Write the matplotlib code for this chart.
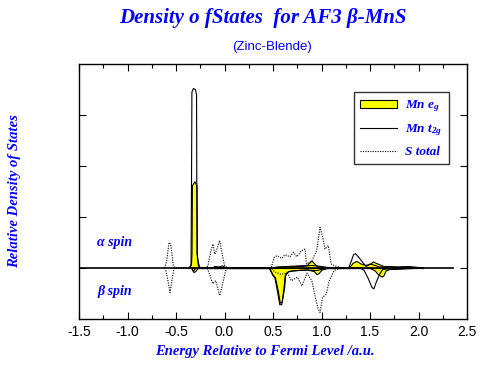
import matplotlib
matplotlib.use("Agg")
import matplotlib.pyplot as plt
from matplotlib.patches import Patch
from matplotlib.lines import Line2D

# Mn e_g, alpha spin (up) and beta spin (down)
eg_up_e = [-0.36, -0.345, -0.34, -0.336, -0.31, -0.288, -0.284, -0.275, -0.26, -0.24,
           0.45, 0.50, 0.55, 0.65, 0.75, 0.85, 0.88, 0.90, 0.93, 0.96, 1.02, 1.08,
           1.28, 1.32, 1.36, 1.40, 1.45, 1.50, 1.53, 1.56, 1.60, 1.65, 1.75, 1.85, 1.95, 2.05]
eg_up_v = [0, 0.1, 0.3, 1.62, 1.7, 1.62, 0.25, 0.12, 0.02, 0,
           0, 0.02, 0.03, 0.04, 0.05, 0.06, 0.12, 0.14, 0.08, 0.03, 0.02, 0,
           0, 0.1, 0.14, 0.09, 0.06, 0.08, 0.13, 0.1, 0.07, 0.03, 0.02, 0.03, 0.01, 0]
eg_dn_e = [-0.34, -0.32, -0.30, -0.28, 0.46, 0.50, 0.52, 0.55, 0.57, 0.59, 0.61, 0.62,
           0.64, 0.68, 0.75, 0.85, 0.92, 0.95, 0.97, 1.0, 1.05, 1.5, 1.55, 1.58, 1.62,
           1.64, 1.66, 1.70, 1.8]
eg_dn_v = [0, -0.08, -0.06, 0, 0, -0.14, -0.18, -0.45, -0.68, -0.66, -0.35, -0.15,
           -0.08, -0.05, -0.04, -0.03, -0.06, -0.12, -0.1, -0.03, 0, 0, -0.05, -0.12, -0.17,
           -0.14, -0.05, -0.02, 0]

# Mn t_2g
t2g_up_e = [-0.37, -0.345, -0.34, -0.336, -0.32, -0.30, -0.288, -0.284, -0.27, -0.25,
            -0.12, -0.10, -0.06, -0.02, 0.0, 0.02, 0.45, 0.6, 0.8, 0.9, 1.0, 1.1,
            1.28, 1.31, 1.33, 1.35, 1.38, 1.42, 1.46, 1.5, 1.55, 1.6, 1.7, 1.8, 1.9, 2.0, 2.05]
t2g_up_v = [0, 0.05, 1.7, 3.45, 3.52, 3.5, 3.4, 0.3, 0.05, 0,
            0, 0.03, 0.02, 0.04, 0.02, 0, 0, 0.02, 0.03, 0.05, 0.03, 0,
            0, 0.15, 0.26, 0.28, 0.22, 0.12, 0.03, 0.08, 0.05, 0.02, 0.03, 0.02, 0.03, 0.01, 0]
t2g_dn_e = [-0.34, -0.32, -0.30, 0.46, 0.50, 0.52, 0.55, 0.57, 0.59, 0.62, 0.63, 0.66,
            0.75, 0.85, 0.95, 1.0, 1.1, 1.4, 1.44, 1.48, 1.52, 1.54, 1.56, 1.6, 1.63,
            1.68, 1.75, 1.85, 1.95, 2.05]
t2g_dn_v = [0, -0.07, 0, 0, -0.15, -0.2, -0.5, -0.72, -0.72, -0.4, -0.15, -0.07,
            -0.05, -0.04, -0.05, -0.03, 0, 0, -0.05, -0.2, -0.38, -0.41, -0.3, -0.12, -0.03,
            -0.02, -0.03, -0.02, -0.01, 0]

# S total
s_up_e = [-0.62, -0.597, -0.572, -0.555, -0.528, -0.51,
          -0.19, -0.17, -0.14, -0.12, -0.10, -0.07, -0.05, -0.02, 0.0, 0.03,
          0.48, 0.514, 0.538, 0.59, 0.624, 0.676, 0.71, 0.744, 0.795, 0.83, 0.845, 0.9,
          0.95, 0.985, 1.02, 1.035, 1.07, 1.10, 1.14, 1.22]
s_up_v = [0, 0.12, 0.50, 0.47, 0.05, 0,
          0, 0.05, 0.34, 0.47, 0.27, 0.41, 0.54, 0.24, 0.05, 0,
          0, 0.21, 0.24, 0.19, 0.26, 0.22, 0.31, 0.22, 0.34, 0.37, 0.08, 0.14,
          0.34, 0.80, 0.54, 0.37, 0.44, 0.08, 0.04, 0]
s_dn_e = [-0.61, -0.58, -0.562, -0.54, -0.52,
          -0.18, -0.16, -0.12, -0.09, -0.05, -0.035, 0.0, 0.02,
          0.48, 0.52, 0.58, 0.65, 0.69, 0.75, 0.80, 0.85, 0.90, 0.96, 0.985, 1.01, 1.05,
          1.08, 1.13, 1.2]
s_dn_v = [0, -0.28, -0.48, -0.22, 0,
          0, -0.09, -0.31, -0.25, -0.54, -0.44, -0.15, 0,
          0, -0.08, -0.12, -0.1, -0.25, -0.18, -0.35, -0.1, -0.25, -0.77, -0.87, -0.58, -0.51,
          -0.25, -0.05, 0]

xticks = [-1.5, -1.0, -0.5, 0.0, 0.5, 1.0, 1.5, 2.0, 2.5]

blue = "#0000ff"
serif_bi = dict(family="Liberation Serif", weight="bold", style="italic", color=blue)
plt.rcParams["mathtext.fontset"] = "custom"
plt.rcParams["mathtext.it"] = "Liberation Serif:bold:italic"
plt.rcParams["mathtext.rm"] = "Liberation Serif:bold:italic"

fig = plt.figure(figsize=(4.89, 3.67), dpi=100)
ax = fig.add_axes([79 / 489, 1 - 319 / 367, 388 / 489, 255 / 367])

ax.fill_between(eg_up_e, eg_up_v, 0, facecolor="yellow", edgecolor="black", lw=0.8, zorder=2)
ax.fill_between(eg_dn_e, eg_dn_v, 0, facecolor="yellow", edgecolor="black", lw=0.8, zorder=2)
ax.plot(t2g_up_e, t2g_up_v, color="black", lw=0.8, zorder=3)
ax.plot(t2g_dn_e, t2g_dn_v, color="black", lw=0.8, zorder=3)
ax.plot(s_up_e, s_up_v, color="black", lw=0.8, ls=(0, (1, 1.2)), zorder=3)
ax.plot(s_dn_e, s_dn_v, color="black", lw=0.8, ls=(0, (1, 1.2)), zorder=3)
ax.plot([-1.5, 2.36], [0, 0], color="black", lw=1.2, zorder=4)

ax.set_xlim(-1.5, 2.5)
ax.set_ylim(-1, 4)
ax.set_xticks(xticks)
ax.set_xticklabels([f"{t:.1f}" for t in xticks], family="Liberation Sans", fontsize=10)
ax.set_xticks([t + 0.25 for t in xticks[:-1]], minor=True)
ax.set_yticks([0, 1, 2, 3])
ax.set_yticklabels([])
ax.tick_params(which="both", direction="in", top=True, right=True, width=0.8)
ax.tick_params(which="major", length=5, pad=4)
ax.tick_params(which="minor", length=3)
for s in ax.spines.values():
    s.set_linewidth(1.0)

ax.text(-1.31, 0.5, "α spin", va="center", fontsize=10, **serif_bi)
ax.text(-1.31, -0.47, "β spin", va="center", fontsize=10, **serif_bi)

handles = [Patch(facecolor="yellow", edgecolor="black", lw=0.8),
           Line2D([], [], color="black", lw=0.8),
           Line2D([], [], color="black", lw=0.8, ls=(0, (1, 1.2)))]
leg = ax.legend(handles, ["Mn $e_g$", "Mn $t_{2g}$", "S total"], loc="upper right",
                bbox_to_anchor=(0.954, 0.89), borderaxespad=0, frameon=True,
                fancybox=False, edgecolor="black", handlelength=2.8, handleheight=0.5,
                handletextpad=0.6, labelspacing=0.6, borderpad=0.5,
                prop=dict(family="Liberation Serif", weight="bold", style="italic", size=9.5))
leg.get_frame().set_linewidth(1.0)
for t in leg.get_texts():
    t.set_color(blue)

fig.text(263 / 489, 1 - 18 / 367, "Density o fStates  for AF3 β-MnS", ha="center",
         va="center", fontsize=15, **serif_bi)
fig.text(272 / 489, 1 - 47 / 367, "(Zinc-Blende)", ha="center", va="center",
         family="Liberation Sans", fontsize=9.5, color=blue)
fig.text(265 / 489, 1 - 352 / 367, "Energy Relative to Fermi Level /a.u.", ha="center",
         va="center", fontsize=10.5, **serif_bi)
fig.text(15 / 489, 1 - 191 / 367, "Relative Density of States", ha="center",
         va="center", rotation=90, fontsize=10.5, **serif_bi)

fig.savefig("out.png", dpi=100)
